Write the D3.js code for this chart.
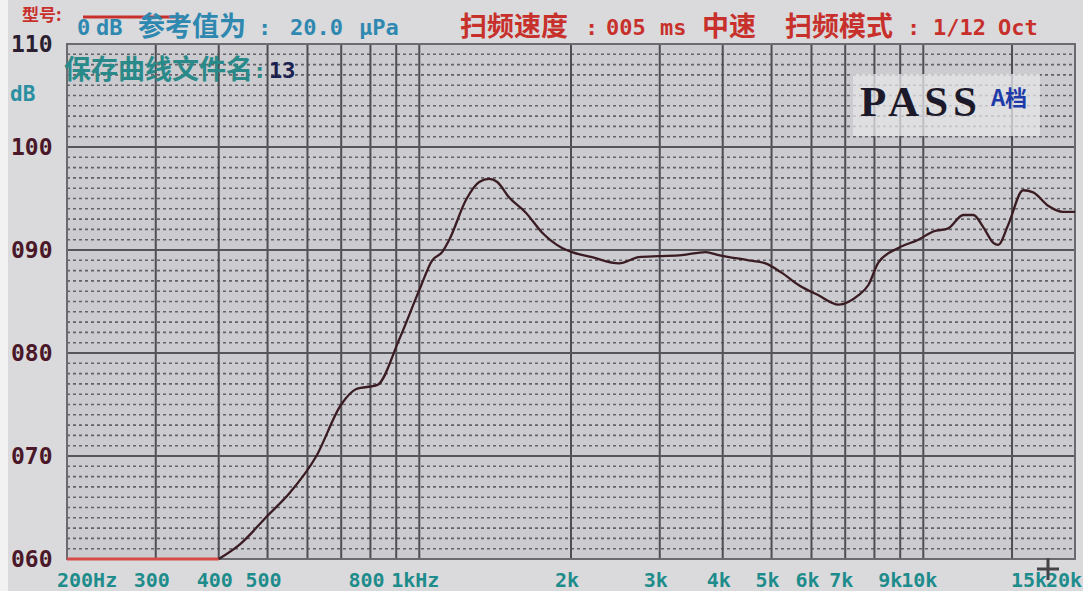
<!DOCTYPE html>
<html>
<head>
<meta charset="utf-8">
<script src="https://cdn.jsdelivr.net/npm/d3@7"></script>
<style>
  body { margin: 0; background: #dcdcde; }
  svg { display: block; }
</style>
</head>
<body>
<svg width="1083" height="591"></svg>
<script>
// frequency response, log freq axis 200Hz..20kHz, level 60..110 dB
var freqs = [200, 300, 400, 440, 500, 553, 625, 700, 750, 826, 912, 1000, 1061, 1110, 1147, 1239, 1315, 1376, 1428, 1508, 1629, 1752, 1920, 2009, 2202, 2490, 2727, 2988, 3318, 3700, 3926, 4500, 4864, 5234, 5656, 6196, 6787, 7430, 7782, 8149, 8924, 9776, 10470, 11212, 12005, 12570, 13160, 13770, 14080, 14730, 15780, 16520, 17690, 18940, 20000];
var levels = [60, 60, 60, 61.4, 64.2, 66.4, 70, 75, 76.5, 76.9, 81.3, 86.1, 89, 89.8, 91, 94.9, 96.6, 96.9, 96.6, 95.1, 93.6, 91.7, 90.2, 89.8, 89.3, 88.7, 89.3, 89.4, 89.5, 89.8, 89.5, 89, 88.7, 87.8, 86.6, 85.6, 84.7, 85.6, 86.6, 88.8, 90.2, 91, 91.8, 92.1, 93.4, 93.4, 92.2, 90.7, 90.5, 92.4, 95.8, 95.6, 94.3, 93.7, 93.7];

var yTicks = [60, 70, 80, 90, 100, 110];
var yTickLabels = ["060", "070", "080", "090", "100", "110"];
var xGrid = [300, 400, 500, 600, 700, 800, 900, 1000, 2000, 3000, 4000, 5000, 6000, 7000, 8000, 9000, 10000, 15000];
var xLabelFreqs = [200, 300, 400, 500, 800, 1000, 2000, 3000, 4000, 5000, 6000, 7000, 9000, 10000, 15000, 20000];
var xLabelTexts = ["200Hz", "300", "400", "500", "800", "1kHz", "2k", "3k", "4k", "5k", "6k", "7k", "9k", "10k", "15k", "20k"];

var svg = d3.select("svg");
var x = d3.scaleLog().domain([200, 20000]).range([67, 1075]);
var y = d3.scaleLinear().domain([60, 110]).range([559, 44]);

var mono = "'DejaVu Sans Mono', monospace";
var cjk = "'Noto Sans CJK SC', sans-serif";
var red = "#c8302c", blue = "#2f88b0", teal = "#1f8c8c";

// page
svg.append("rect").attr("width", 1083).attr("height", 591).attr("fill", "#dadadc");
svg.append("rect").attr("width", 8).attr("height", 591).attr("fill", "#f2f2f2");

// plot area
svg.append("rect")
    .attr("x", x(200)).attr("y", y(110))
    .attr("width", x(20000) - x(200)).attr("height", y(60) - y(110))
    .attr("fill", "#cccbcf");

// 1 dB dotted rows
var minor = d3.range(61, 110).filter(function (d) { return d % 10 != 0; });
svg.selectAll(".minor")
    .data(minor)
    .enter().append("line")
    .attr("class", "minor")
    .attr("x1", x(200)).attr("x2", x(20000))
    .attr("y1", function (d) { return y(d) })
    .attr("y2", function (d) { return y(d) })
    .attr("stroke", "#626268")
    .attr("stroke-width", 1.6)
    .attr("stroke-dasharray", "3,3");

svg.selectAll(".vgrid")
    .data(xGrid)
    .enter().append("line")
    .attr("class", "vgrid")
    .attr("x1", function (d) { return x(d) })
    .attr("x2", function (d) { return x(d) })
    .attr("y1", y(110)).attr("y2", y(60))
    .attr("stroke", "#4e4e54")
    .attr("stroke-width", 2);

svg.selectAll(".hgrid")
    .data(yTicks)
    .enter().append("line")
    .attr("class", "hgrid")
    .attr("x1", x(200)).attr("x2", x(20000))
    .attr("y1", function (d) { return y(d) })
    .attr("y2", function (d) { return y(d) })
    .attr("stroke", "#55555a")
    .attr("stroke-width", 2.2);

svg.append("rect")
    .attr("x", x(200)).attr("y", y(110))
    .attr("width", x(20000) - x(200)).attr("height", y(60) - y(110))
    .attr("fill", "none").attr("stroke", "#6a6a70").attr("stroke-width", 2);

// PASS box
svg.append("rect")
    .attr("x", 853).attr("y", 74).attr("width", 187).attr("height", 62)
    .attr("fill", "#e6e6e8").attr("opacity", 0.75);
svg.append("text")
    .attr("x", 860).attr("y", 116)
    .attr("font-family", "'Liberation Serif', 'DejaVu Serif', serif")
    .attr("font-weight", "bold").attr("font-size", 43)
    .attr("letter-spacing", 5)
    .attr("fill", "#1c1a2a")
    .text("PASS");
svg.append("text")
    .attr("x", 991).attr("y", 106)
    .attr("font-family", cjk).attr("font-weight", "bold").attr("font-size", 22)
    .attr("fill", "#1e3aa8")
    .text("A档");

// curve
var pts = freqs.map(function (f, i) { return [f, levels[i]] });
var line = d3.line()
    .x(function (d) { return x(d[0]) })
    .y(function (d) { return y(d[1]) })
    .curve(d3.curveMonotoneX);
var floorPts = pts.filter(function (d) { return d[1] <= 60 });
svg.append("path")
    .attr("d", line(floorPts))
    .attr("fill", "none").attr("stroke", "#d84a48").attr("stroke-width", 3);
svg.append("path")
    .attr("d", line(pts.slice(floorPts.length - 1)))
    .attr("fill", "none").attr("stroke", "#3a1c22").attr("stroke-width", 2.3);

// y labels
svg.selectAll(".ylab")
    .data(yTicks)
    .enter().append("text")
    .attr("class", "ylab")
    .attr("x", 11)
    .attr("y", function (d) { return y(d) + 8 })
    .attr("font-family", mono).attr("font-weight", "bold").attr("font-size", 23)
    .attr("fill", function (d) { return d == 110 ? "#2a2030" : "#4a1828" })
    .text(function (d, i) { return yTickLabels[i] });
svg.append("text")
    .attr("x", 10).attr("y", 101)
    .attr("font-family", mono).attr("font-weight", "bold").attr("font-size", 21)
    .attr("fill", "#2a8fa0")
    .text("dB");

// x labels
svg.selectAll(".xlab")
    .data(xLabelFreqs)
    .enter().append("text")
    .attr("class", "xlab")
    .attr("x", function (d) {
        if (d == 200) return 57;
        if (d == 20000) return 1082;
        if (d == 15000) return x(d) + 17;
        if (d == 9000) return x(d) - 10;
        return x(d) - 4;
    })
    .attr("y", 587)
    .attr("text-anchor", function (d) {
        if (d == 200) return "start";
        if (d == 20000) return "end";
        return "middle";
    })
    .attr("font-family", mono).attr("font-weight", "bold").attr("font-size", 20)
    .attr("fill", teal)
    .text(function (d, i) { return xLabelTexts[i] });

// header
function put(str, px, py, size, color, family) {
    svg.append("text")
        .attr("x", px).attr("y", py)
        .attr("font-family", family).attr("font-weight", "bold").attr("font-size", size)
        .attr("fill", color)
        .text(str);
}
put("型号:", 22, 21, 17, red, cjk);
svg.append("line")
    .attr("x1", 83).attr("x2", 183).attr("y1", 17).attr("y2", 17)
    .attr("stroke", red).attr("stroke-width", 3);

put("0", 77, 35, 22, blue, mono);
put("dB", 96, 35, 22, blue, mono);
put("参考值为", 138, 36, 27, blue, cjk);
put(":", 258, 35, 22, blue, mono);
put("20.0", 290, 35, 22, blue, mono);
put("μPa", 359, 35, 22, blue, mono);

put("扫频速度", 460, 36, 27, red, cjk);
put(":", 585, 35, 22, red, mono);
put("005", 606, 35, 22, red, mono);
put("ms", 660, 35, 22, red, mono);
put("中速", 702, 36, 27, red, cjk);
put("扫频模式", 785, 36, 27, red, cjk);
put(":", 907, 35, 22, red, mono);
put("1/12", 933, 35, 22, red, mono);
put("Oct", 998, 35, 22, red, mono);

put("保存曲线文件名", 64, 79, 27, "#2a8a8a", cjk);
put(":", 253, 78, 22, "#2a8a8a", mono);
put("13", 269, 78, 22, "#1a2050", mono);

// cursor mark
svg.append("path")
    .attr("d", "M1037,569 H1059 M1048,558 V580")
    .attr("stroke", "#444448").attr("stroke-width", 3);
</script>
</body>
</html>
